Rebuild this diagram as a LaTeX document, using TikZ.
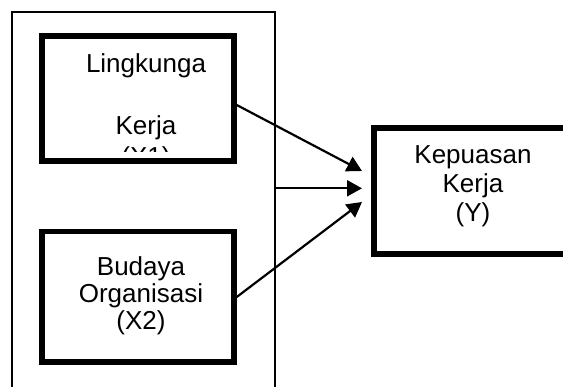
\documentclass[tikz,border=0pt]{standalone}
\usepackage{fontspec}
\setmainfont{Liberation Sans}
\usetikzlibrary{arrows.meta}

\begin{document}
\begin{tikzpicture}[x=1pt,y=-1pt,
  varbox/.style={draw,line width=5.5pt,inner sep=0pt},
  lbl/.style={align=center,inner sep=0pt,anchor=base},
  arr/.style={-{Triangle[length=15pt,width=16pt]},line width=2.2pt}]
\useasboundingbox (0,0) rectangle (563,387);
\clip (0,0) rectangle (563,387);

\node [draw,line width=1.4pt,minimum width=263pt,minimum height=400pt] (frame) at (143.5,212) {};

\node [varbox,minimum width=192pt,minimum height=125pt] (x1) at (138,98.5) {};
\node [varbox,minimum width=192pt,minimum height=130.5pt] (x2) at (138,297) {};
\node [varbox,minimum width=198pt,minimum height=126pt] (y) at (473,191) {};

\begin{scope}
\clip (44,39) rectangle (232,152);
\node [lbl,font=\fontsize{26}{31}\selectfont] (x1text) at (146,166) {Lingkunga\\[31pt]Kerja\\(X1)};
\end{scope}
\node [lbl,font=\fontsize{26}{27}\selectfont] (x2text) at (141,330) {Budaya\\Organisasi\\(X2)};
\node [lbl,font=\fontsize{26}{29}\selectfont] (ytext) at (473,221.5) {Kepuasan\\Kerja\\(Y)};

\coordinate (tipA) at (362,171);
\coordinate (tipB) at (362,188.3);
\coordinate (tipC) at (362,202);
\draw [arr] ([yshift=-6.5pt]x1.east) -- (tipA);
\draw [arr] (frame.east |- tipB) -- (tipB);
\draw [arr] (x2.east) -- (tipC);
\end{tikzpicture}
\end{document}
